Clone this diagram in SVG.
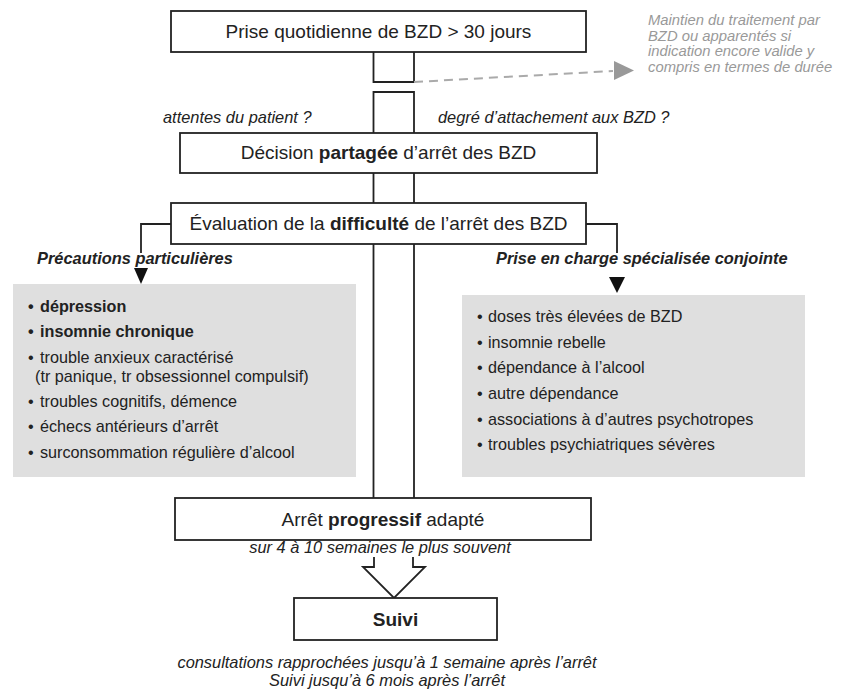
<svg xmlns="http://www.w3.org/2000/svg" width="852" height="699" viewBox="0 0 852 699">
<style>
.box{fill:#fff;stroke:#222;stroke-width:1.8}
.gray{fill:#dfdfdf;stroke:none}
.ln{fill:none;stroke:#222;stroke-width:1.8}
.t{font-family:"Liberation Sans",Arial,sans-serif;fill:#222}
.main{font-size:19px;text-anchor:middle}
.it{font-size:16.4px;font-style:italic}
.bi{font-size:16.4px;font-style:italic;font-weight:bold}
.li{font-size:16.2px}
.gt{font-family:"Liberation Sans",Arial,sans-serif;font-size:14.8px;font-style:italic;fill:#999}
</style>
<rect width="852" height="699" fill="#fff"/>
<g id="connectors">
  <path class="ln" d="M373.5,52 V82 H414 V52"/>
  <path class="ln" d="M373.5,133 V92 H414 V133"/>
  <path class="ln" d="M373.5,173 V203 M414,173 V203"/>
  <path class="ln" d="M373.5,244 V498 M414,244 V498"/>
  <path d="M414,82 L613,71" fill="none" stroke="#aaa" stroke-width="2" stroke-dasharray="9,6"/>
  <polygon points="614,61 634,70.5 614,80" fill="#999"/>
  <path class="ln" d="M171,224 H141 V253"/>
  <polygon points="134,268 148,268 141,284" fill="#111"/>
  <path class="ln" d="M586,224 H617 V253"/>
  <polygon points="609,277 625,277 617,293" fill="#111"/>
  <path class="ln" d="M374,557 V567 H363 L394,598 L425,567 H413 V557"/>
</g>
<g id="n-prise">
  <rect class="box" x="171" y="11" width="415" height="41"/>
  <text class="t main" x="378.5" y="38">Prise quotidienne de BZD &gt; 30 jours</text>
</g>
<g id="n-maintien">
  <text class="gt" x="648" y="25">Maintien du traitement par</text>
  <text class="gt" x="648" y="40.5">BZD ou apparentés si</text>
  <text class="gt" x="648" y="56">indication encore valide y</text>
  <text class="gt" x="648" y="71.5">compris en termes de durée</text>
</g>
<g id="labels-top">
  <text class="t it" x="163" y="123">attentes du patient ?</text>
  <text class="t it" x="438" y="123">degré d’attachement aux BZD ?</text>
</g>
<g id="n-decision">
  <rect class="box" x="180" y="133" width="417" height="40"/>
  <text class="t main" x="388.5" y="159">Décision <tspan font-weight="bold">partagée</tspan> d’arrêt des BZD</text>
</g>
<g id="n-evaluation">
  <rect class="box" x="171" y="203" width="415" height="41"/>
  <text class="t main" x="378.5" y="230">Évaluation de la <tspan font-weight="bold">difficulté</tspan> de l’arrêt des BZD</text>
</g>
<g id="n-precautions">
  <text class="t bi" x="37" y="264">Précautions particulières</text>
  <rect class="gray" x="13" y="284" width="343" height="193"/>
  <text class="t li" font-weight="bold" x="28" y="312">•<tspan x="40">dépression</tspan></text>
  <text class="t li" font-weight="bold" x="28" y="337">•<tspan x="40">insomnie chronique</tspan></text>
  <text class="t li" x="28" y="363">•<tspan x="40">trouble anxieux caractérisé</tspan></text>
  <text class="t li" x="35" y="382">(tr panique, tr obsessionnel compulsif)</text>
  <text class="t li" x="28" y="407">•<tspan x="40">troubles cognitifs, démence</tspan></text>
  <text class="t li" x="28" y="432">•<tspan x="40">échecs antérieurs d’arrêt</tspan></text>
  <text class="t li" x="28" y="458">•<tspan x="40">surconsommation régulière d’alcool</tspan></text>
</g>
<g id="n-specialisee">
  <text class="t bi" x="496" y="264">Prise en charge spécialisée conjointe</text>
  <rect class="gray" x="462" y="295" width="343" height="182"/>
  <text class="t li" x="477" y="322">•<tspan x="488">doses très élevées de BZD</tspan></text>
  <text class="t li" x="477" y="348">•<tspan x="488">insomnie rebelle</tspan></text>
  <text class="t li" x="477" y="373">•<tspan x="488">dépendance à l’alcool</tspan></text>
  <text class="t li" x="477" y="399">•<tspan x="488">autre dépendance</tspan></text>
  <text class="t li" x="477" y="425">•<tspan x="488">associations à d’autres psychotropes</tspan></text>
  <text class="t li" x="477" y="450">•<tspan x="488">troubles psychiatriques sévères</tspan></text>
</g>
<g id="n-arret">
  <rect class="box" x="175" y="498" width="416" height="42"/>
  <text class="t main" x="383" y="526">Arrêt <tspan font-weight="bold">progressif</tspan> adapté</text>
  <text class="t it" x="380" y="553" text-anchor="middle">sur 4 à 10 semaines le plus souvent</text>
</g>
<g id="n-suivi">
  <rect class="box" x="294" y="598" width="203" height="42"/>
  <text class="t" x="395.5" y="626" font-size="19" font-weight="bold" text-anchor="middle">Suivi</text>
  <text class="t it" x="387" y="668" text-anchor="middle">consultations rapprochées jusqu’à 1 semaine après l’arrêt</text>
  <text class="t it" x="387" y="686" text-anchor="middle">Suivi jusqu’à 6 mois après l’arrêt</text>
</g>
</svg>
